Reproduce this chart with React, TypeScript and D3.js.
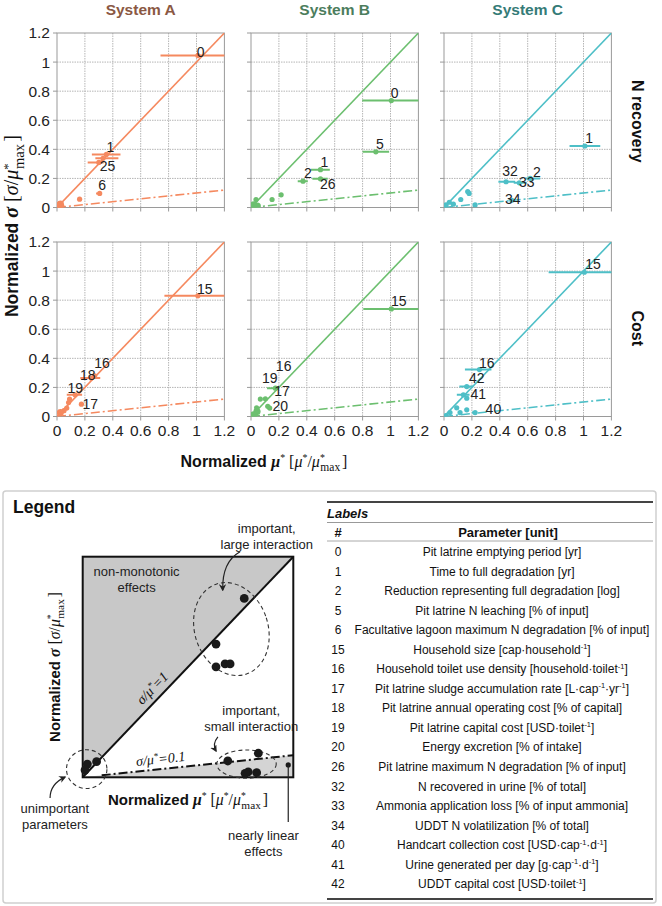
import React from 'react';
import * as d3 from 'd3';

// ---------- data ----------
const systems = ['System A', 'System B', 'System C'];
const systemTitleColors = ['#8a5843', '#4c7d5d', '#357b77'];
const seriesColors = ['#f5895f', '#6cbf6f', '#4ebfc7'];
const rowTitles = ['N recovery', 'Cost'];
const axisTicks = [0, 0.2, 0.4, 0.6, 0.8, 1, 1.2];
const tickLabels = ['0', '0.2', '0.4', '0.6', '0.8', '1', '1.2'];

type Pt = { x: number; y: number; lo?: number; hi?: number; big?: boolean };
type Lb = { t: string; x: number; y: number };

const aNrec: Pt[] = [
  { x: 1.01, y: 1.045, lo: 0.742, hi: 1.3 },
  { x: 0.354, y: 0.365, lo: 0.25, hi: 0.455 },
  { x: 0.33, y: 0.338, lo: 0.275, hi: 0.44 },
  { x: 0.3, y: 0.31, lo: 0.22, hi: 0.335 },
  { x: 0.306, y: 0.097, lo: 0.28, hi: 0.32 },
  { x: 0.162, y: 0.057 },
  { x: 0.024, y: 0.023, big: true },
  { x: 0.015, y: 0.012, big: true },
  { x: 0.035, y: 0.01 },
];
const bNrec: Pt[] = [
  { x: 1.006, y: 0.735, lo: 0.797, hi: 1.3 },
  { x: 0.895, y: 0.383, lo: 0.8, hi: 0.99 },
  { x: 0.498, y: 0.26, lo: 0.43, hi: 0.565 },
  { x: 0.373, y: 0.181, lo: 0.335, hi: 0.407 },
  { x: 0.498, y: 0.197, lo: 0.44, hi: 0.55 },
  { x: 0.216, y: 0.087 },
  { x: 0.151, y: 0.055 },
  { x: 0.036, y: 0.055 },
  { x: 0.02, y: 0.018, big: true },
  { x: 0.045, y: 0.01, big: true },
];
const cNrec: Pt[] = [
  { x: 1.01, y: 0.423, lo: 0.9, hi: 1.12 },
  { x: 0.445, y: 0.177, lo: 0.39, hi: 0.51 },
  { x: 0.54, y: 0.17, lo: 0.5, hi: 0.594 },
  { x: 0.618, y: 0.2, lo: 0.58, hi: 0.69 },
  { x: 0.486, y: 0.05 },
  { x: 0.18, y: 0.097 },
  { x: 0.17, y: 0.11 },
  { x: 0.12, y: 0.055 },
  { x: 0.067, y: 0.023 },
  { x: 0.038, y: 0.036 },
  { x: 0.223, y: 0.018 },
  { x: 0.015, y: 0.018 },
];
const aCost: Pt[] = [
  { x: 1.01, y: 0.83, lo: 0.77, hi: 1.3 },
  { x: 0.27, y: 0.28 },
  { x: 0.245, y: 0.264, lo: 0.167, hi: 0.31 },
  { x: 0.13, y: 0.149, lo: 0.07, hi: 0.18 },
  { x: 0.175, y: 0.085 },
  { x: 0.083, y: 0.096 },
  { x: 0.07, y: 0.058 },
  { x: 0.09, y: 0.12 },
  { x: 0.05, y: 0.04 },
  { x: 0.024, y: 0.027, big: true },
];
const bCost: Pt[] = [
  { x: 1.006, y: 0.74, lo: 0.805, hi: 1.3 },
  { x: 0.175, y: 0.195, lo: 0.115, hi: 0.2 },
  { x: 0.103, y: 0.122 },
  { x: 0.067, y: 0.12 },
  { x: 0.134, y: 0.058 },
  { x: 0.12, y: 0.07 },
  { x: 0.043, y: 0.034, big: true },
  { x: 0.04, y: 0.06 },
  { x: 0.02, y: 0.011, big: true },
];
const cCost: Pt[] = [
  { x: 1.006, y: 0.992, lo: 0.75, hi: 1.3 },
  { x: 0.254, y: 0.323, lo: 0.15, hi: 0.34 },
  { x: 0.163, y: 0.206, lo: 0.11, hi: 0.21 },
  { x: 0.139, y: 0.149, lo: 0.092, hi: 0.183 },
  { x: 0.163, y: 0.126 },
  { x: 0.223, y: 0.027, lo: 0.2, hi: 0.235 },
  { x: 0.163, y: 0.046 },
  { x: 0.091, y: 0.06 },
  { x: 0.115, y: 0.027 },
  { x: 0.043, y: 0.027 },
  { x: 0.015, y: 0.007 },
];

const aNrecLabels: Lb[] = [
  { t: '0', x: 1.03, y: 1.072 },
  { t: '1', x: 0.383, y: 0.418 },
  { t: '2', x: 0.335, y: 0.287 },
  { t: '5', x: 0.39, y: 0.287 },
  { t: '6', x: 0.323, y: 0.154 },
];
const bNrecLabels: Lb[] = [
  { t: '0', x: 1.03, y: 0.79 },
  { t: '5', x: 0.924, y: 0.437 },
  { t: '1', x: 0.527, y: 0.31 },
  { t: '2', x: 0.407, y: 0.239 },
  { t: '26', x: 0.55, y: 0.159 },
];
const cNrecLabels: Lb[] = [
  { t: '1', x: 1.04, y: 0.476 },
  { t: '32', x: 0.474, y: 0.252 },
  { t: '2', x: 0.666, y: 0.245 },
  { t: '33', x: 0.594, y: 0.177 },
  { t: '34', x: 0.493, y: 0.062 },
];
const aCostLabels: Lb[] = [
  { t: '15', x: 1.06, y: 0.875 },
  { t: '16', x: 0.323, y: 0.367 },
  { t: '18', x: 0.22, y: 0.286 },
  { t: '19', x: 0.131, y: 0.195 },
  { t: '17', x: 0.239, y: 0.085 },
];
const bCostLabels: Lb[] = [
  { t: '15', x: 1.06, y: 0.795 },
  { t: '16', x: 0.234, y: 0.35 },
  { t: '19', x: 0.134, y: 0.264 },
  { t: '17', x: 0.223, y: 0.179 },
  { t: '20', x: 0.21, y: 0.073 },
];
const cCostLabels: Lb[] = [
  { t: '15', x: 1.068, y: 1.047 },
  { t: '16', x: 0.307, y: 0.371 },
  { t: '42', x: 0.235, y: 0.262 },
  { t: '41', x: 0.246, y: 0.155 },
  { t: '40', x: 0.354, y: 0.053 },
];

const panelPoints = [[aNrec, bNrec, cNrec], [aCost, bCost, cCost]];
const panelLabels = [[aNrecLabels, bNrecLabels, cNrecLabels], [aCostLabels, bCostLabels, cCostLabels]];

// legend schematic data (normalized 0..1 inside legend frame)
const legendDots = [
  { x: 0.767, y: 0.811 }, { x: 0.633, y: 0.604 }, { x: 0.633, y: 0.501 },
  { x: 0.676, y: 0.514 }, { x: 0.7, y: 0.514 },
  { x: 0.689, y: 0.074 }, { x: 0.834, y: 0.109 }, { x: 0.786, y: 0.025 },
  { x: 0.826, y: 0.021 }, { x: 0.771, y: 0.018 },
  { x: 0.022, y: 0.06 }, { x: 0.066, y: 0.071 }, { x: 0.011, y: 0.033 },
];
const legendSmallDot = { x: 0.976, y: 0.056 };
const legendEllipses = [
  { cx: 0.706, cy: 0.672, rx: 0.174, ry: 0.215, rot: -18 },
  { cx: 0.778, cy: 0.06, rx: 0.141, ry: 0.064, rot: 0 },
  { cx: 0.019, cy: 0.037, rx: 0.096, ry: 0.088, rot: 0 },
];
const legendArrows = [
  { from: [0.747, 1.022], ctrl: [0.661, 0.976], to: [0.665, 0.849] },
  { from: [0.642, 0.183], ctrl: [0.614, 0.151], to: [0.633, 0.119] },
  { from: [-0.155, -0.094], ctrl: [-0.155, -0.03], to: [-0.084, 0.001] },
];
const legendTexts = [
  { lines: ['non-monotonic', 'effects'], x: 0.256, y: 0.935 },
  { lines: ['important,', 'large interaction'], x: 0.874, y: 1.129 },
  { lines: ['important,', 'small interaction'], x: 0.8, y: 0.305 },
  { lines: ['unimportant', 'parameters'], x: -0.132, y: -0.141 },
  { lines: ['nearly linear', 'effects'], x: 0.858, y: -0.265 },
];

const tableNums = ['0', '1', '2', '5', '6', '15', '16', '17', '18', '19', '20', '26', '32', '33', '34', '40', '41', '42'];
const tableParams = [
  'Pit latrine emptying period [yr]',
  'Time to full degradation [yr]',
  'Reduction representing full degradation [log]',
  'Pit latrine N leaching [% of input]',
  'Facultative lagoon maximum N degradation [% of input]',
  'Household size [cap·household^{-1}]',
  'Household toilet use density [household·toilet^{-1}]',
  'Pit latrine sludge accumulation rate [L·cap^{-1}·yr^{-1}]',
  'Pit latrine annual operating cost [% of capital]',
  'Pit latrine capital cost [USD·toilet^{-1}]',
  'Energy excretion [% of intake]',
  'Pit latrine maximum N degradation [% of input]',
  'N recovered in urine [% of total]',
  'Ammonia application loss [% of input ammonia]',
  'UDDT N volatilization [% of total]',
  'Handcart collection cost [USD·cap^{-1}·d^{-1}]',
  'Urine generated per day [g·cap^{-1}·d^{-1}]',
  'UDDT capital cost [USD·toilet^{-1}]',
];

// ---------- helpers ----------
const SANS = 'Liberation Sans, Arial, Helvetica, sans-serif';
const SERIF = 'Liberation Serif, Times New Roman, serif';

function AxisTitle({ sym, x, y, size, rotate, serifScale = 1, raise = 0.38 }: { sym: string; x: number; y: number; size: number; rotate?: boolean; serifScale?: number; raise?: number }) {
  const s = size;
  const m = s * serifScale;
  const sup = -raise * m;
  const star = (key: string) => (
    <tspan key={key} fontFamily={SERIF} fontSize={m * 0.62} dy={sup}>*</tspan>
  );
  const parts: React.ReactNode[] = [];
  parts.push(<tspan key="n" fontFamily={SANS} fontWeight="bold">Normalized </tspan>);
  parts.push(<tspan key="s" fontFamily={SERIF} fontSize={m} fontWeight="bold" fontStyle="italic">{sym}</tspan>);
  if (sym === 'μ') {
    parts.push(star('s1'));
    parts.push(<tspan key="b" fontFamily={SERIF} fontSize={m} dy={-sup}> [</tspan>);
  } else {
    parts.push(<tspan key="b" fontFamily={SERIF} fontSize={m}> [</tspan>);
  }
  parts.push(<tspan key="s2" fontFamily={SERIF} fontSize={m} fontStyle="italic">{sym}</tspan>);
  if (sym === 'μ') {
    parts.push(star('s3'));
    parts.push(<tspan key="sl" fontFamily={SERIF} fontSize={m} dy={-sup}>/</tspan>);
  } else {
    parts.push(<tspan key="sl" fontFamily={SERIF} fontSize={m}>/</tspan>);
  }
  parts.push(<tspan key="m" fontFamily={SERIF} fontSize={m} fontStyle="italic">μ</tspan>);
  parts.push(star('s4'));
  parts.push(<tspan key="mx" fontFamily={SERIF} fontSize={m * 0.72} dx={-0.28 * m} dy={-sup + 0.28 * m}>max</tspan>);
  parts.push(<tspan key="e" fontFamily={SERIF} fontSize={m} dy={-0.28 * m} dx={0.12 * m}>]</tspan>);
  return (
    <text x={x} y={y} fontSize={s} textAnchor="middle" fill="#111"
      transform={rotate ? `rotate(-90 ${x} ${y})` : undefined}>{parts}</text>
  );
}

function RichText({ text, x, y, size }: { text: string; x: number; y: number; size: number }) {
  const pieces = text.split(/(\^\{[^}]*\})/).filter((p) => p.length);
  let raised = false;
  return (
    <text x={x} y={y} fontSize={size} fontFamily={SANS} textAnchor="middle" fill="#111">
      {pieces.map((p, i) => {
        const m = p.match(/^\^\{([^}]*)\}$/);
        if (m) {
          raised = true;
          return <tspan key={i} fontSize={size * 0.62} dy={-size * 0.38}>{m[1]}</tspan>;
        }
        const dy = raised ? size * 0.38 : 0;
        raised = false;
        return <tspan key={i} dy={dy}>{p}</tspan>;
      })}
    </text>
  );
}

function Panel({ row, col, x0, y0, w, h }: { row: number; col: number; x0: number; y0: number; w: number; h: number }) {
  const xs = d3.scaleLinear().domain([0, 1.2]).range([x0, x0 + w]);
  const ys = d3.scaleLinear().domain([0, 1.2]).range([y0 + h, y0]);
  const color = seriesColors[col];
  const pts = panelPoints[row][col];
  const labs = panelLabels[row][col];
  const clipId = `clip-${row}-${col}`;
  const line = d3.line<[number, number]>().x((d) => xs(d[0])).y((d) => ys(d[1]));
  return (
    <g>
      <defs>
        <clipPath id={clipId}>
          <rect x={x0} y={y0} width={w} height={h} />
        </clipPath>
      </defs>
      <rect x={x0} y={y0} width={w} height={h} fill="#fff" />
      {axisTicks.slice(1, -1).map((t) => (
        <g key={t}>
          <line x1={xs(t)} x2={xs(t)} y1={y0} y2={y0 + h} stroke="#b5b5b5" strokeDasharray="1.5,1" strokeWidth={1} />
          <line x1={x0} x2={x0 + w} y1={ys(t)} y2={ys(t)} stroke="#b5b5b5" strokeDasharray="1.5,1" strokeWidth={1} />
        </g>
      ))}
      <rect x={x0} y={y0} width={w} height={h} fill="none" stroke="#9a9a9a" strokeWidth={1} />
      {axisTicks.map((t) => (
        <g key={'t' + t}>
          <line x1={x0 - 4} x2={x0} y1={ys(t)} y2={ys(t)} stroke="#9a9a9a" />
          <line x1={xs(t)} x2={xs(t)} y1={y0 + h} y2={y0 + h + 4} stroke="#9a9a9a" />
        </g>
      ))}
      {col === 0 && axisTicks.map((t, i) => (
        <text key={'yl' + t} x={x0 - 7} y={ys(t)} dy="0.35em" textAnchor="end" fontSize={15.5} fontFamily={SANS} fill="#222">{tickLabels[i]}</text>
      ))}
      {row === 1 && axisTicks.map((t, i) => (
        <text key={'xl' + t} x={xs(t)} y={y0 + h + 19} textAnchor="middle" fontSize={15.5} fontFamily={SANS} fill="#222">{tickLabels[i]}</text>
      ))}
      <g clipPath={`url(#${clipId})`}>
        <path d={line([[0, 0], [1.2, 1.2]]) || ''} stroke={color} strokeWidth={1.6} fill="none" />
        <path d={line([[0, 0], [1.2, 0.12]]) || ''} stroke={color} strokeWidth={1.6} fill="none" strokeDasharray="9,3,2,3" />
        {pts.map((p, i) => (
          <g key={i}>
            {p.lo !== undefined && p.hi !== undefined && (
              <line x1={xs(p.lo)} x2={xs(p.hi)} y1={ys(p.y)} y2={ys(p.y)} stroke={color} strokeWidth={2} />
            )}
            <circle cx={xs(p.x)} cy={ys(p.y)} r={p.big ? 3.6 : 2.6} fill={color} />
          </g>
        ))}
      </g>
      {labs.map((l, i) => (
        <text key={i} x={xs(l.x)} y={ys(l.y)} dy="0.36em" textAnchor="middle" fontSize={14} fontFamily={SANS} fill="#222">{l.t}</text>
      ))}
    </g>
  );
}

function Legend() {
  const lx = d3.scaleLinear().domain([0, 1]).range([82.7, 293.3]);
  const ly = d3.scaleLinear().domain([0, 1]).range([777.3, 556.7]);
  const poly = (pts: [number, number][]) => pts.map((p) => `${lx(p[0])},${ly(p[1])}`).join(' ');
  const angle1 = (Math.atan2(ly(1) - ly(0), lx(1) - lx(0)) * 180) / Math.PI;
  const angle2 = (Math.atan2(ly(0.1) - ly(0), lx(1) - lx(0)) * 180) / Math.PI;
  return (
    <g>
      <defs>
        <marker id="arrowhead" viewBox="0 0 10 10" refX="8" refY="5" markerWidth="6" markerHeight="6" orient="auto-start-reverse">
          <path d="M0,0 L10,5 L0,10 L3,5 z" fill="#222" />
        </marker>
      </defs>
      <text x={13} y={513} fontSize={17.5} fontWeight="bold" fontFamily={SANS} fill="#111">Legend</text>
      <rect x={lx(0)} y={ly(1)} width={lx(1) - lx(0)} height={ly(0) - ly(1)} fill="#fff" />
      <polygon points={poly([[0, 0], [0, 1], [1, 1]])} fill="#c8c8c8" />
      <polygon points={poly([[0, 0], [1, 0.1], [1, 0]])} fill="#d4d4d4" />
      <line x1={lx(0)} y1={ly(0)} x2={lx(1)} y2={ly(1)} stroke="#111" strokeWidth={2} />
      <line x1={lx(0.09)} y1={ly(0.009)} x2={lx(1)} y2={ly(0.1)} stroke="#111" strokeWidth={2} strokeDasharray="9,3,2,3" />
      <rect x={lx(0)} y={ly(1)} width={lx(1) - lx(0)} height={ly(0) - ly(1)} fill="none" stroke="#111" strokeWidth={2} />
      {legendEllipses.map((e, i) => (
        <ellipse key={i} cx={lx(e.cx)} cy={ly(e.cy)} rx={lx(e.rx) - lx(0)} ry={ly(0) - ly(e.ry)}
          transform={`rotate(${e.rot} ${lx(e.cx)} ${ly(e.cy)})`} fill="none" stroke="#333" strokeWidth={1.1} strokeDasharray="4,3" />
      ))}
      {legendDots.map((d, i) => (
        <circle key={i} cx={lx(d.x)} cy={ly(d.y)} r={4.4} fill="#1a1a1a" />
      ))}
      <circle cx={lx(legendSmallDot.x)} cy={ly(legendSmallDot.y)} r={2.6} fill="#1a1a1a" />
      <line x1={lx(legendSmallDot.x)} y1={ly(legendSmallDot.y)} x2={lx(legendSmallDot.x)} y2={ly(-0.203)} stroke="#222" strokeWidth={1.2} />
      {legendArrows.map((a, i) => (
        <path key={i} d={`M${lx(a.from[0])},${ly(a.from[1])} Q${lx(a.ctrl[0])},${ly(a.ctrl[1])} ${lx(a.to[0])},${ly(a.to[1])}`}
          fill="none" stroke="#222" strokeWidth={1.2} markerEnd="url(#arrowhead)" />
      ))}
      {legendTexts.map((t, i) => (
        <text key={i} x={lx(t.x)} y={ly(t.y)} textAnchor="middle" fontSize={13} fontFamily={SANS} fill="#222">
          {t.lines.map((l, j) => (
            <tspan key={j} x={lx(t.x)} dy={j === 0 ? '0.35em' : 16}>{l}</tspan>
          ))}
        </text>
      ))}
      <text x={lx(0.33)} y={ly(0.405)} textAnchor="middle" dy="0.35em" fontSize={14} fontFamily={SERIF} fontStyle="italic" fill="#111"
        transform={`rotate(${angle1} ${lx(0.33)} ${ly(0.405)})`}>
        σ/μ<tspan fontSize={9} dy={-5}>*</tspan><tspan dy={5}>=1</tspan>
      </text>
      <text x={lx(0.37)} y={ly(0.085)} textAnchor="middle" dy="0.35em" fontSize={14} fontFamily={SERIF} fontStyle="italic" fill="#111"
        transform={`rotate(${angle2} ${lx(0.37)} ${ly(0.085)})`}>
        σ/μ<tspan fontSize={9} dy={-5}>*</tspan><tspan dy={5}>=0.1</tspan>
      </text>
      <AxisTitle sym="μ" x={188} y={805} size={15} serifScale={1.05} />
      <AxisTitle sym="σ" x={60} y={667} size={15} rotate serifScale={1.05} />
    </g>
  );
}

function Table() {
  const rowY = d3.scaleLinear().domain([0, tableNums.length - 1]).range([551.7, 884]);
  return (
    <g>
      <line x1={327} x2={653} y1={502} y2={502} stroke="#444" strokeWidth={2} />
      <text x={327} y={518} fontSize={13} fontWeight="bold" fontStyle="italic" fontFamily={SANS} fill="#111">Labels</text>
      <line x1={327} x2={653} y1={522.5} y2={522.5} stroke="#999" strokeWidth={1.2} />
      <text x={338} y={537} textAnchor="middle" fontSize={13} fontWeight="bold" fontFamily={SANS} fill="#111">#</text>
      <text x={508} y={537} textAnchor="middle" fontSize={13} fontWeight="bold" fontFamily={SANS} fill="#111">Parameter [unit]</text>
      <line x1={327} x2={653} y1={541} y2={541} stroke="#aaa" strokeWidth={1} />
      {tableNums.map((n, i) => (
        <g key={n}>
          <text x={338} y={rowY(i) + 4.3} textAnchor="middle" fontSize={12} fontFamily={SANS} fill="#111">{n}</text>
          <RichText text={tableParams[i]} x={502} y={rowY(i) + 4.3} size={12} />
        </g>
      ))}
      <line x1={327} x2={653} y1={899} y2={899} stroke="#444" strokeWidth={2} />
    </g>
  );
}

export default function App() {
  const x0s = [57, 251, 444];
  const y0s = [33, 242];
  const pw = 167.4;
  const ph = 174.5;
  return (
    <svg width={662} height={906} style={{ position: 'absolute', left: 0, top: 0, display: 'block', background: '#fff' }}>
      <rect x={0} y={0} width={662} height={906} fill="#fff" />
      {systems.map((s, c) => (
        <text key={s} x={x0s[c] + pw / 2} y={15} textAnchor="middle" fontSize={15.5} fontWeight="bold" fontFamily={SANS} fill={systemTitleColors[c]}>{s}</text>
      ))}
      {rowTitles.map((r, i) => {
        const cy = y0s[i] + ph / 2 + (i === 0 ? 1 : -1);
        return (
          <text key={r} x={638} y={cy} textAnchor="middle" dy="0.35em" fontSize={16} fontWeight="bold" fontFamily={SANS} fill="#111"
            transform={`rotate(90 638 ${cy})`}>{r}</text>
        );
      })}
      {y0s.map((y0, r) => x0s.map((x0, c) => (
        <Panel key={`${r}-${c}`} row={r} col={c} x0={x0} y0={y0} w={pw} h={ph} />
      )))}
      <AxisTitle sym="σ" x={18} y={226} size={17.5} rotate serifScale={1.15} raise={0.3} />
      <AxisTitle sym="μ" x={264} y={467} size={16} />
      <rect x={3} y={491} width={653} height={412} rx={3} fill="none" stroke="#cfcfcf" strokeWidth={1.5} />
      <Legend />
      <Table />
    </svg>
  );
}
